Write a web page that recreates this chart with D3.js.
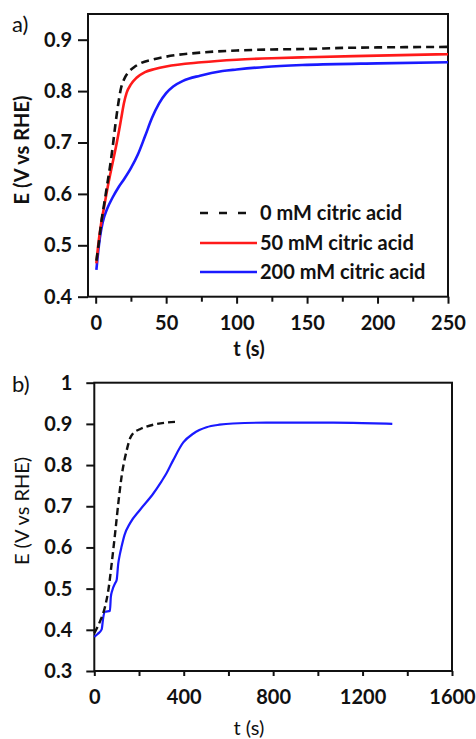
<!DOCTYPE html>
<html>
<head>
<meta charset="utf-8">
<script src="https://cdn.jsdelivr.net/npm/d3@7"></script>
<style>
  html, body { margin: 0; padding: 0; background: #fff; }
  svg { display: block; }
  text { font-family: Lato, "Open Sans", sans-serif; fill: #111; }
</style>
</head>
<body>
<svg id="chart" width="476" height="739"></svg>
<script>
// Panel a: potential transients in 0 / 50 / 200 mM citric acid
const seriesNames = ["0 mM citric acid", "50 mM citric acid", "200 mM citric acid"];
const seriesColors = ["#111111", "#ff1a1a", "#1a1aff"];

const aTime0   = [0.5, 2, 4, 6, 8, 10, 12, 14, 16, 18, 20, 23, 27, 31, 40, 50, 75, 100, 125, 150, 175, 200, 250];
const aE0      = [0.47, 0.50, 0.545, 0.58, 0.615, 0.65, 0.69, 0.735, 0.775, 0.806, 0.822, 0.836, 0.846, 0.853, 0.861, 0.867, 0.875, 0.879, 0.881, 0.882, 0.884, 0.885, 0.886];
const aTime50  = [0.5, 2, 4, 6, 9, 12, 15, 18, 20, 22, 25, 29, 35, 42, 50, 75, 100, 125, 150, 200, 250];
const aE50     = [0.465, 0.505, 0.545, 0.575, 0.62, 0.66, 0.70, 0.745, 0.776, 0.797, 0.813, 0.826, 0.837, 0.843, 0.848, 0.856, 0.861, 0.864, 0.866, 0.869, 0.872];
const aTime200 = [0.5, 1.5, 3, 5, 8, 12, 16, 20, 25, 30, 35, 40, 45, 50, 55, 62, 74, 90, 100, 120, 150, 200, 250];
const aE200    = [0.452, 0.48, 0.515, 0.545, 0.57, 0.593, 0.612, 0.628, 0.650, 0.677, 0.712, 0.748, 0.776, 0.796, 0.809, 0.820, 0.830, 0.839, 0.842, 0.847, 0.851, 0.854, 0.856];

const aXTicks = [0, 50, 100, 150, 200, 250];
const aXMinor = [25, 75, 125, 175, 225];
const aYTicks = [0.4, 0.5, 0.6, 0.7, 0.8, 0.9];

// Panel b: long transients
const bTimeDash = [0, 25, 48, 63, 78, 93, 108, 122, 145, 160, 175, 204, 264, 368];
const bEDash    = [0.392, 0.42, 0.456, 0.497, 0.562, 0.634, 0.71, 0.772, 0.836, 0.865, 0.878, 0.887, 0.898, 0.905];
const bTimeBlue = [0, 15, 33, 40, 48, 70, 74, 80, 93, 100, 107, 115, 122, 135, 160, 204, 264, 300, 323, 353, 398, 442, 470, 502, 560, 620, 770, 1068, 1200, 1333];
const bEBlue    = [0.383, 0.39, 0.401, 0.43, 0.444, 0.446, 0.48, 0.495, 0.513, 0.521, 0.56, 0.585, 0.602, 0.63, 0.659, 0.691, 0.731, 0.76, 0.78, 0.812, 0.855, 0.876, 0.885, 0.892, 0.898, 0.901, 0.903, 0.903, 0.902, 0.900];

const bXTicks = [0, 400, 800, 1200, 1600];
const bXMinor = [200, 600, 1000, 1400];
const bYTicks = [0.3, 0.4, 0.5, 0.6, 0.7, 0.8, 0.9, 1];

const zip = (xs, ys) => xs.map((x, i) => [x, ys[i]]);
const svg = d3.select("#chart");
const FS = 20;

// ---------- panel a ----------
const ax = d3.scaleLinear().domain([-5.45, 250]).range([88, 448]);
const ay = d3.scaleLinear().domain([0.4, 0.95]).range([296.7, 14]);
const ga = svg.append("g");

ga.append("rect").attr("x", 88).attr("y", 14).attr("width", 360).attr("height", 282.7)
  .attr("fill", "none").attr("stroke", "#111").attr("stroke-width", 2);

const aXAxis = ga.append("g").attr("transform", "translate(0,296.7)")
  .call(d3.axisBottom(ax).tickValues(aXTicks).tickSize(7).tickSizeOuter(0).tickPadding(12).tickFormat(d3.format("d")));
const aXMinorAxis = ga.append("g").attr("transform", "translate(0,296.7)")
  .call(d3.axisBottom(ax).tickValues(aXMinor).tickSize(5).tickSizeOuter(0).tickFormat(""));
const aYAxis = ga.append("g").attr("transform", "translate(88,0)")
  .call(d3.axisLeft(ay).tickValues(aYTicks).tickSize(10).tickSizeOuter(0).tickPadding(6).tickFormat(d3.format(".1f")));

[aXAxis, aXMinorAxis, aYAxis].forEach(g => {
  g.select(".domain").remove();
  g.selectAll("line").attr("stroke", "#111").attr("stroke-width", 2);
  g.selectAll("text").attr("font-size", FS).attr("font-weight", 700).attr("fill", "#111")
    .style("font-family", "Lato, sans-serif");
});

const lineA = d3.line().x(d => ax(d[0])).y(d => ay(d[1])).curve(d3.curveMonotoneX);
const aSeries = [zip(aTime0, aE0), zip(aTime50, aE50), zip(aTime200, aE200)];
[2, 1, 0].forEach(i => {
  ga.append("path").datum(aSeries[i]).attr("d", lineA)
    .attr("fill", "none").attr("stroke", seriesColors[i]).attr("stroke-width", 2.6)
    .attr("stroke-dasharray", i === 0 ? "8,5" : null);
});

// legend
const legY = [213, 243, 272];
seriesNames.forEach((name, i) => {
  ga.append("line").attr("x1", 200).attr("x2", 257).attr("y1", legY[i]).attr("y2", legY[i])
    .attr("stroke", seriesColors[i]).attr("stroke-width", 2.6)
    .attr("stroke-dasharray", i === 0 ? "8,11" : null);
  ga.append("text").attr("x", 260).attr("y", legY[i] + 7).attr("font-size", FS).attr("font-weight", 700)
    .text(name);
});

ga.append("text").attr("x", 249).attr("y", 356).attr("text-anchor", "middle")
  .attr("font-size", FS).attr("font-weight", 700).text("t (s)");
ga.append("text").attr("transform", "translate(29,150) rotate(-90)").attr("text-anchor", "middle")
  .attr("font-size", FS).attr("font-weight", 700).text("E (V vs RHE)");
ga.append("text").attr("x", 12).attr("y", 32).attr("font-size", 22).text("a)");

// ---------- panel b ----------
const bx = d3.scaleLinear().domain([0, 1600]).range([94.3, 452]);
const by = d3.scaleLinear().domain([0.3, 1]).range([671, 382.7]);
const gb = svg.append("g");

gb.append("rect").attr("x", 94.3).attr("y", 382.7).attr("width", 357.7).attr("height", 288.3)
  .attr("fill", "none").attr("stroke", "#111").attr("stroke-width", 2);

const bXAxis = gb.append("g").attr("transform", "translate(0,671)")
  .call(d3.axisBottom(bx).tickValues(bXTicks).tickSize(5).tickSizeOuter(0).tickPadding(14).tickFormat(d3.format("d")));
const bXMinorAxis = gb.append("g").attr("transform", "translate(0,671)")
  .call(d3.axisBottom(bx).tickValues(bXMinor).tickSize(5).tickSizeOuter(0).tickFormat(""));
const bYAxis = gb.append("g").attr("transform", "translate(94.3,0)")
  .call(d3.axisLeft(by).tickValues(bYTicks).tickSize(8).tickSizeOuter(0).tickPadding(14)
    .tickFormat(d => d === 1 ? "1" : d3.format(".1f")(d)));

[bXAxis, bXMinorAxis, bYAxis].forEach(g => {
  g.select(".domain").remove();
  g.selectAll("line").attr("stroke", "#111").attr("stroke-width", 2);
  g.selectAll("text").attr("font-size", FS).attr("font-weight", 700).attr("fill", "#111")
    .style("font-family", "Lato, sans-serif");
});

const lineB = d3.line().x(d => bx(d[0])).y(d => by(d[1])).curve(d3.curveMonotoneX);
gb.append("path").datum(zip(bTimeBlue, bEBlue)).attr("d", lineB)
  .attr("fill", "none").attr("stroke", seriesColors[2]).attr("stroke-width", 2.2);
gb.append("path").datum(zip(bTimeDash, bEDash)).attr("d", lineB)
  .attr("fill", "none").attr("stroke", seriesColors[0]).attr("stroke-width", 2.4)
  .attr("stroke-dasharray", "7,4");

gb.append("text").attr("x", 249).attr("y", 735).attr("text-anchor", "middle")
  .attr("font-size", FS).text("t (s)");
gb.append("text").attr("transform", "translate(29,511) rotate(-90)").attr("text-anchor", "middle")
  .attr("font-size", FS).text("E (V vs RHE)");
gb.append("text").attr("x", 12).attr("y", 392).attr("font-size", 22).text("b)");
</script>
</body>
</html>
